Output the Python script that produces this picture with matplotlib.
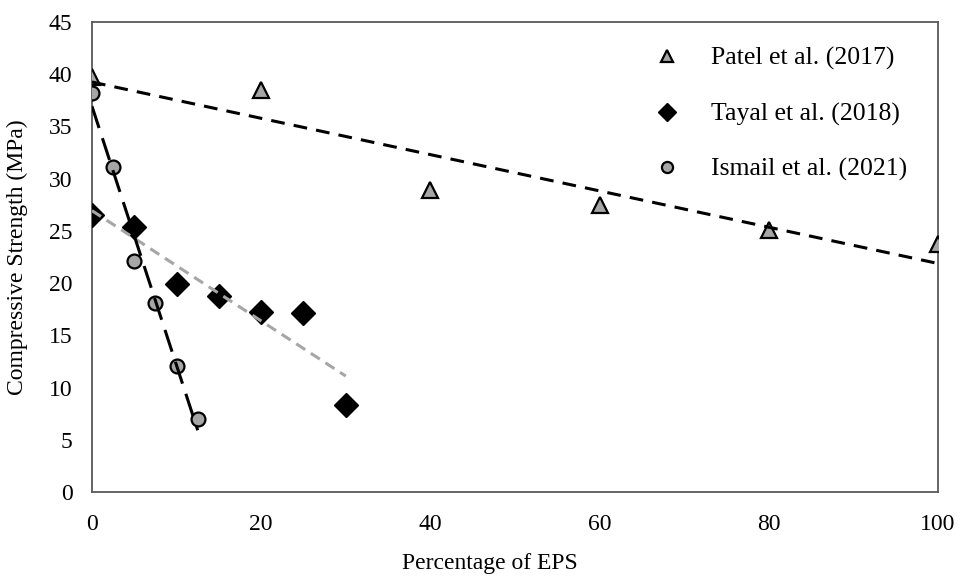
import matplotlib.pyplot as plt
import numpy as np

plt.rcParams['font.family'] = ['Liberation Serif', 'DejaVu Serif']

# Data
patel_x = [0, 20, 40, 60, 80, 100]
patel_y = [39.7, 38.5, 28.9, 27.5, 25.1, 23.7]

tayal_x = [0, 5, 10, 15, 20, 25, 30]
tayal_y = [26.5, 25.4, 19.9, 18.75, 17.2, 17.1, 8.3]

ismail_x = [0, 2.5, 5, 7.5, 10, 12.5]
ismail_y = [38.2, 31.1, 22.1, 18.1, 12.05, 7.0]

labels = ['Patel et al. (2017)', 'Tayal et al. (2018)', 'Ismail et al. (2021)']

gray = '#a6a6a6'
spine = '#595959'

fig = plt.figure(figsize=(9.6, 5.82), dpi=100)
ax = fig.add_axes([0.0958, 0.1546, 0.8812, 0.8076])

ax.plot(patel_x, patel_y, linestyle='none', marker='^', ms=11,
        mfc=gray, mec='black', mew=1.6, label=labels[0], zorder=3)
ax.plot(tayal_x, tayal_y, linestyle='none', marker='D', ms=12,
        mfc='black', mec='black', label=labels[1], zorder=3)
ax.plot(ismail_x, ismail_y, linestyle='none', marker='o', ms=10,
        mfc=gray, mec='black', mew=1.6, label=labels[2], zorder=3)

# linear trendlines drawn over the markers
def trend(x, y):
    k, b = np.polyfit(x, y, 1)
    xs = np.array([min(x), max(x)])
    return xs, k * xs + b

xs, ys = trend(patel_x, patel_y)
ax.plot(xs, ys, color='black', lw=2.2, dashes=(4.5, 3), zorder=4)
xs, ys = trend(tayal_x, tayal_y)
ax.plot(xs, ys, color=gray, lw=2.2, dashes=(3.5, 2.2), zorder=4)
xs, ys = trend(ismail_x, ismail_y)
ax.plot(xs, ys, color='black', lw=2.2, dashes=(7.5, 3.5), zorder=4)

ax.set_xlim(0, 100)
ax.set_ylim(0, 45)
ax.set_xticks(range(0, 101, 20))
ax.set_yticks(range(0, 46, 5))
ax.tick_params(axis='both', length=0, labelsize=17)
ax.tick_params(axis='x', pad=16)
ax.tick_params(axis='y', pad=14)

for s in ax.spines.values():
    s.set_color(spine)
    s.set_linewidth(1.3)

ax.set_xlabel('Percentage of EPS', fontsize=17)
ax.xaxis.set_label_coords(0.47, -0.13)
ax.set_ylabel('Compressive Strength (MPa)', fontsize=17)
ax.yaxis.set_label_coords(-0.0757, 0.5)

ax.legend(loc='upper right', bbox_to_anchor=(0.985, 0.985), frameon=False,
          fontsize=18.5, labelspacing=1.25, handlelength=1.4, handletextpad=1.0,
          markerscale=0.8, borderaxespad=0.3)

plt.savefig('out.png', dpi=100)
